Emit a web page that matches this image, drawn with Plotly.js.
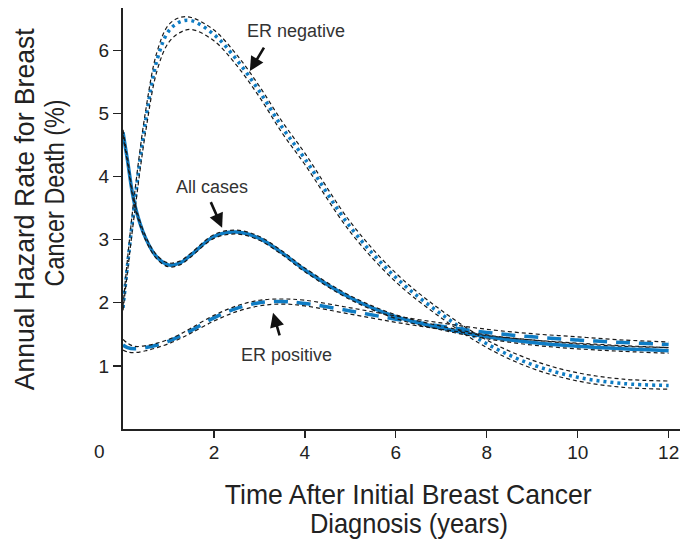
<!DOCTYPE html>
<html>
<head>
<meta charset="utf-8">
<script src="https://cdn.plot.ly/plotly-3.0.1.min.js"></script>
<style>
  html, body { margin: 0; padding: 0; background: #ffffff; }
  #chart { width: 689px; height: 542px; }
</style>
</head>
<body>
<div id="chart"></div>
<script>
// Years after diagnosis at which the hazard curves are sampled
const years = [0, 0.1, 0.25, 0.5, 0.75, 1, 1.25, 1.5, 2, 2.5, 3, 3.5, 4, 5, 6, 7, 8, 9, 10, 11, 12];

// Annual hazard rate for breast cancer death (%) with confidence limits
const allCases     = [4.70, 4.25, 3.58, 3.02, 2.72, 2.60, 2.63, 2.76, 3.05, 3.12, 3.02, 2.79, 2.52, 2.08, 1.78, 1.60, 1.46, 1.37, 1.31, 1.27, 1.24];
const allCasesLow  = [4.66, 4.21, 3.55, 2.99, 2.69, 2.57, 2.60, 2.73, 3.02, 3.09, 2.99, 2.76, 2.49, 2.05, 1.75, 1.57, 1.43, 1.33, 1.27, 1.23, 1.20];
const allCasesHigh = [4.74, 4.29, 3.61, 3.05, 2.75, 2.63, 2.66, 2.79, 3.08, 3.15, 3.05, 2.82, 2.55, 2.11, 1.81, 1.63, 1.49, 1.41, 1.35, 1.31, 1.29];

const erNegative     = [1.92, 2.60, 3.55, 4.90, 5.85, 6.30, 6.45, 6.47, 6.25, 5.85, 5.35, 4.78, 4.28, 3.20, 2.40, 1.82, 1.35, 1.02, 0.82, 0.72, 0.69];
const erNegativeHigh = [1.95, 2.70, 3.70, 5.05, 5.98, 6.40, 6.52, 6.52, 6.32, 5.93, 5.43, 4.87, 4.37, 3.28, 2.47, 1.88, 1.41, 1.09, 0.89, 0.79, 0.76];
const erNegativeLow  = [1.88, 2.50, 3.40, 4.72, 5.68, 6.12, 6.28, 6.33, 6.15, 5.76, 5.26, 4.69, 4.19, 3.12, 2.33, 1.76, 1.29, 0.96, 0.76, 0.66, 0.63];

const erPositive     = [1.33, 1.29, 1.27, 1.29, 1.33, 1.39, 1.47, 1.56, 1.76, 1.91, 2.00, 2.02, 1.99, 1.87, 1.74, 1.63, 1.53, 1.46, 1.41, 1.37, 1.34];
const erPositiveHigh = [1.42, 1.36, 1.31, 1.32, 1.36, 1.42, 1.50, 1.60, 1.80, 1.95, 2.04, 2.06, 2.04, 1.92, 1.79, 1.68, 1.58, 1.51, 1.46, 1.41, 1.38];
const erPositiveLow  = [1.25, 1.22, 1.21, 1.24, 1.29, 1.35, 1.43, 1.52, 1.71, 1.86, 1.95, 1.98, 1.95, 1.82, 1.69, 1.58, 1.48, 1.41, 1.36, 1.32, 1.29];

// Axis tick values
const xTicks = [2, 4, 6, 8, 10, 12];
const yTicks = [1, 2, 3, 4, 5, 6];

const BLUE = '#0e7cc4';
const INK = '#1a1a1a';
const TICK_FONT = 'Liberation Sans, Arial, Helvetica, sans-serif';
const TITLE_FONT = '"Liberation Sans", Arial, sans-serif';

// Axis title lines are set in a condensed face: each line is squeezed to this width (px)
const titleWidths = {
  'Annual Hazard Rate for Breast': 362,
  'Cancer Death (%)': 187,
  'Time After Initial Breast Cancer': 367,
  'Diagnosis (years)': 198
};

function estimate(name, y, dash, width) {
  return {
    x: years, y: y, name: name, type: 'scatter', mode: 'lines',
    line: { color: BLUE, width: width, dash: dash, shape: 'spline', smoothing: 1 },
    hoverinfo: 'x+y+name'
  };
}
function limit(name, y) {
  return {
    x: years, y: y, name: name, type: 'scatter', mode: 'lines',
    line: { color: INK, width: 1.2, dash: '4px,3px', shape: 'spline', smoothing: 1 },
    hoverinfo: 'x+y+name'
  };
}

const traces = [
  estimate('All cases', allCases, 'solid', 3.5),
  estimate('ER negative', erNegative, '3px,4px', 3.5),
  estimate('ER positive', erPositive, '14px,9px', 3.5),
  limit('All cases, lower', allCasesLow),
  limit('All cases, upper', allCasesHigh),
  limit('ER negative, lower', erNegativeLow),
  limit('ER negative, upper', erNegativeHigh),
  limit('ER positive, lower', erPositiveLow),
  limit('ER positive, upper', erPositiveHigh)
];

function label(text, x, y) {
  return { text: text, x: x, y: y, xref: 'x', yref: 'y', showarrow: false,
           font: { family: TICK_FONT, size: 18, color: '#333' } };
}
function pointer(x, y, ax, ay) {
  return { text: '', x: x, y: y, xref: 'x', yref: 'y', ax: ax, ay: ay,
           showarrow: true, arrowhead: 2, arrowsize: 1.1, arrowwidth: 2.6,
           arrowcolor: '#111', standoff: 0 };
}
function titleLine(text, x, y, angle) {
  return { text: text, x: x, y: y, xref: 'paper', yref: 'paper', showarrow: false,
           textangle: angle, xanchor: 'center', yanchor: 'middle',
           font: { family: TITLE_FONT, size: 28, color: '#222' } };
}

const layout = {
  width: 689, height: 542,
  margin: { l: 123, r: 9, t: 8, b: 113 },
  paper_bgcolor: '#ffffff', plot_bgcolor: '#ffffff',
  showlegend: false,
  xaxis: {
    range: [0, 12.25], tickvals: xTicks, ticktext: xTicks.map(String),
    showline: true, linecolor: '#222', linewidth: 2,
    ticks: 'outside', ticklen: 7, tickwidth: 1.3, tickcolor: '#222',
    ticklabelstandoff: -2,
    showgrid: false, zeroline: false,
    tickfont: { family: TICK_FONT, size: 19, color: '#222' }
  },
  yaxis: {
    range: [0, 6.67], tickvals: yTicks, ticktext: yTicks.map(String),
    showline: true, linecolor: '#222', linewidth: 2,
    ticks: 'outside', ticklen: 8, tickwidth: 1.3, tickcolor: '#222',
    showgrid: false, zeroline: false,
    tickfont: { family: TICK_FONT, size: 19, color: '#222' }
  },
  annotations: [
    label('ER negative', 3.8, 6.30),
    pointer(2.79, 5.67, 15, -25),
    label('All cases', 1.96, 3.84),
    pointer(2.18, 3.19, -12, -27),
    label('ER positive', 3.6, 1.17),
    pointer(3.30, 1.84, 7, 24),
    // shared origin label in the corner
    { text: '0', x: -0.0413, y: -0.0523, xref: 'paper', yref: 'paper', showarrow: false,
      xanchor: 'center', yanchor: 'middle',
      font: { family: TICK_FONT, size: 19, color: '#222' } },
    titleLine('Annual Hazard Rate for Breast', -0.176, 0.5226, -90),
    titleLine('Cancer Death (%)', -0.1221, 0.5606, -90),
    titleLine('Time After Initial Breast Cancer', 0.5117, -0.1544, 0),
    titleLine('Diagnosis (years)', 0.5135, -0.2233, 0)
  ]
};

Plotly.newPlot('chart', traces, layout, { staticPlot: true, displayModeBar: false })
  .then(function (gd) {
    gd.querySelectorAll('.annotation-text').forEach(function (t) {
      const w = titleWidths[t.textContent];
      if (w) {
        t.setAttribute('textLength', w);
        t.setAttribute('lengthAdjust', 'spacingAndGlyphs');
      }
    });
  });
</script>
</body>
</html>
